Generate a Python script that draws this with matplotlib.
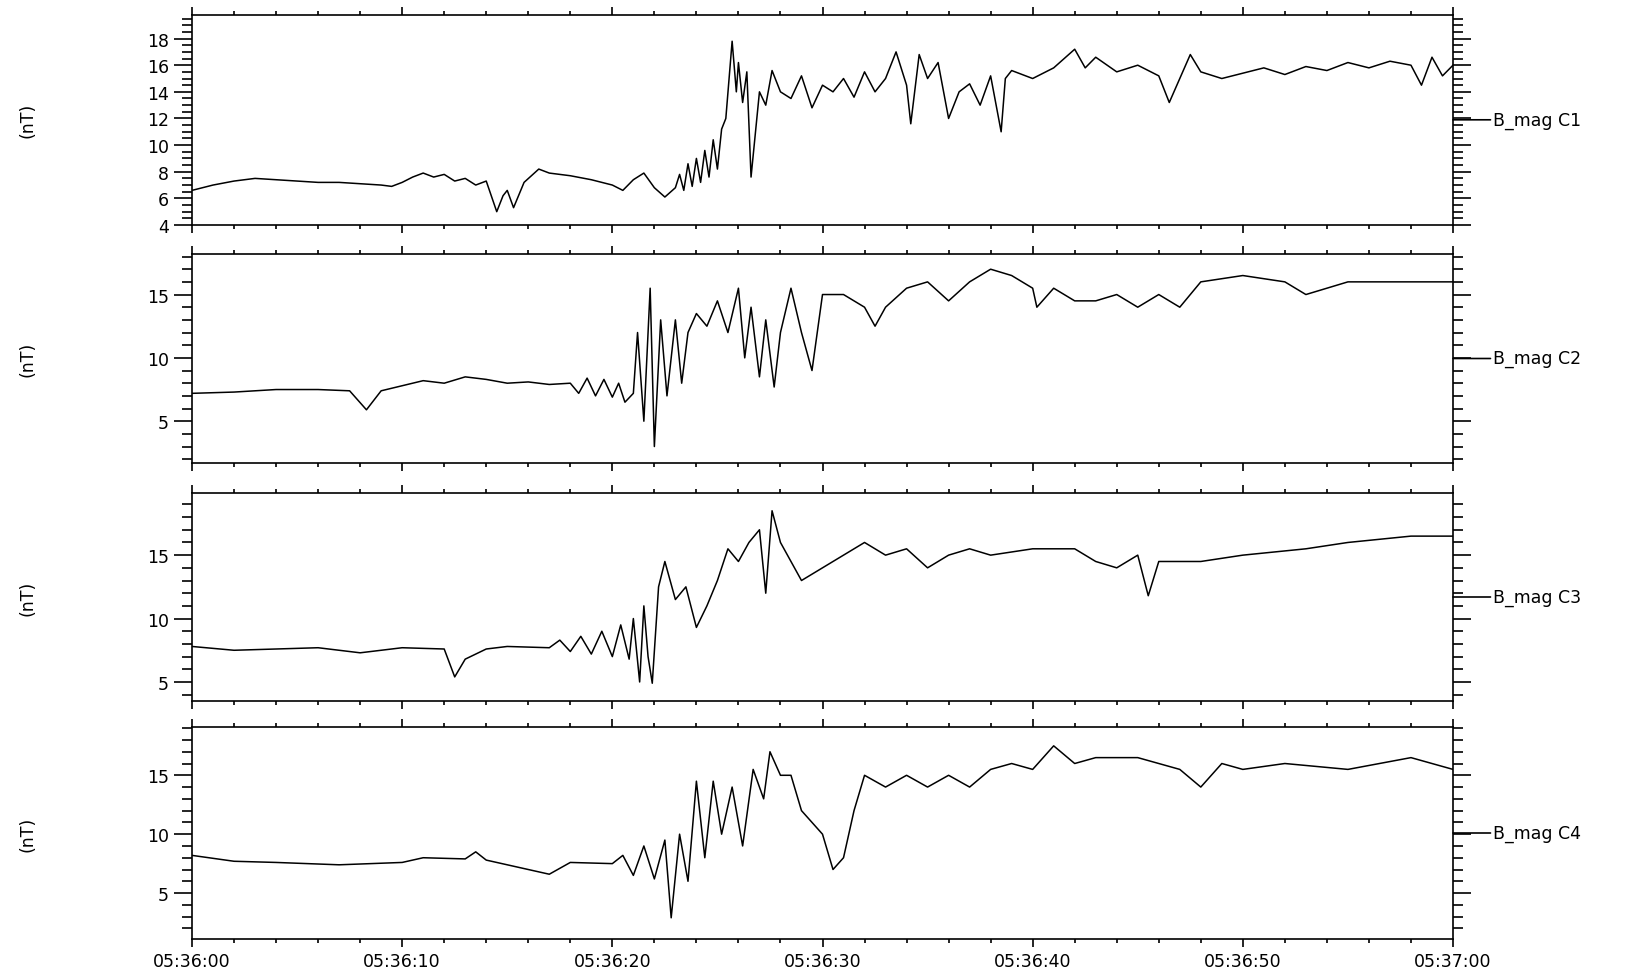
import numpy as np
import matplotlib.pyplot as plt
from matplotlib.ticker import MultipleLocator

# tiempo en segundos desde 05:36:00
t1 = [0, 1, 2, 3, 4, 5, 6, 7, 8, 9, 9.5, 10, 10.5, 11, 11.5, 12, 12.5, 13, 13.5, 14, 14.5, 14.8, 15, 15.3, 15.8, 16.5, 17, 18, 19, 20, 20.5, 21, 21.5, 22, 22.5, 23,
      23.2, 23.4, 23.6, 23.8, 24, 24.2, 24.4, 24.6, 24.8, 25, 25.2, 25.4, 25.7, 25.9, 26, 26.2, 26.4, 26.6, 27, 27.3, 27.6, 28, 28.5, 29, 29.5, 30, 30.5, 31, 31.5, 32,
      32.5, 33, 33.5, 34, 34.2, 34.6, 35, 35.5, 36, 36.5, 37, 37.5, 38, 38.5, 38.7, 39, 40, 41, 42, 42.5, 43, 44, 45, 46, 46.5, 47, 47.5, 48, 49, 50, 51, 52, 53, 54,
      55, 56, 57, 58, 58.5, 59, 59.5, 60]
b1 = [6.6, 7.0, 7.3, 7.5, 7.4, 7.3, 7.2, 7.2, 7.1, 7.0, 6.9, 7.2, 7.6, 7.9, 7.6, 7.8, 7.3, 7.5, 7.0, 7.3, 5.0, 6.2, 6.6, 5.3, 7.2, 8.2, 7.9, 7.7, 7.4, 7.0, 6.6, 7.4, 7.9, 6.8, 6.1, 6.8,
      7.8, 6.6, 8.6, 6.9, 9.0, 7.2, 9.6, 7.6, 10.4, 8.2, 11.2, 12.0, 17.8, 14.0, 16.2, 13.2, 15.5, 7.6, 14.0, 13.0, 15.6, 14.0, 13.5, 15.2, 12.8, 14.5, 14.0, 15.0, 13.6, 15.5,
      14.0, 15.0, 17.0, 14.5, 11.6, 16.8, 15.0, 16.2, 12.0, 14.0, 14.6, 13.0, 15.2, 11.0, 15.0, 15.6, 15.0, 15.8, 17.2, 15.8, 16.6, 15.5, 16.0, 15.2, 13.2, 15.0, 16.8, 15.5,
      15.0, 15.4, 15.8, 15.3, 15.9, 15.6, 16.2, 15.8, 16.3, 16.0, 14.5, 16.6, 15.2, 16.0]

t2 = [0, 2, 4, 6, 7.5, 8.3, 9, 10, 11, 12, 13, 14, 15, 16, 17, 18, 18.4, 18.8, 19.2, 19.6, 20, 20.3, 20.6, 21, 21.2, 21.5, 21.8, 22, 22.3, 22.6, 23, 23.3, 23.6, 24, 24.5,
      25, 25.5, 26, 26.3, 26.6, 27, 27.3, 27.7, 28, 28.5, 29, 29.5, 30, 31, 32, 32.5, 33, 34, 35, 36, 37, 38, 39, 40, 40.2, 41, 42, 43, 44, 45, 46, 47, 48, 50, 52, 53,
      55, 58, 60]
b2 = [7.2, 7.3, 7.5, 7.5, 7.4, 5.9, 7.4, 7.8, 8.2, 8.0, 8.5, 8.3, 8.0, 8.1, 7.9, 8.0, 7.2, 8.4, 7.0, 8.3, 6.9, 8.0, 6.5, 7.2, 12.0, 5.0, 15.5, 3.0, 13.0, 7.0, 13.0, 8.0, 12.0, 13.5, 12.5,
      14.5, 12.0, 15.5, 10.0, 14.0, 8.5, 13.0, 7.7, 12.0, 15.5, 12.0, 9.0, 15.0, 15.0, 14.0, 12.5, 14.0, 15.5, 16.0, 14.5, 16.0, 17.0, 16.5, 15.5, 14.0, 15.5, 14.5, 14.5, 15.0, 14.0, 15.0, 14.0, 16.0, 16.5, 16.0, 15.0,
      16.0, 16.0, 16.0]

t3 = [0, 2, 4, 6, 8, 10, 12, 12.5, 13, 14, 15, 17, 17.5, 18, 18.5, 19, 19.5, 20, 20.4, 20.8, 21, 21.3, 21.5, 21.7, 21.9, 22.2, 22.5, 23, 23.5, 24, 24.5, 25, 25.5, 26, 26.5,
      27, 27.3, 27.6, 28, 29, 30, 31, 32, 33, 34, 35, 36, 37, 38, 40, 42, 43, 44, 45, 45.5, 46, 48, 50, 53, 55, 58, 60]
b3 = [7.8, 7.5, 7.6, 7.7, 7.3, 7.7, 7.6, 5.4, 6.8, 7.6, 7.8, 7.7, 8.3, 7.4, 8.6, 7.2, 9.0, 7.0, 9.5, 6.8, 10.0, 5.0, 11.0, 7.0, 4.9, 12.5, 14.5, 11.5, 12.5, 9.3, 11.0, 13.0, 15.5, 14.5, 16.0,
      17.0, 12.0, 18.5, 16.0, 13.0, 14.0, 15.0, 16.0, 15.0, 15.5, 14.0, 15.0, 15.5, 15.0, 15.5, 15.5, 14.5, 14.0, 15.0, 11.8, 14.5, 14.5, 15.0, 15.5, 16.0, 16.5, 16.5]

t4 = [0, 2, 4, 7, 10, 11, 13, 13.5, 14, 16, 17, 18, 20, 20.5, 21, 21.5, 22, 22.5, 22.8, 23.2, 23.6, 24, 24.4, 24.8, 25.2, 25.7, 26.2, 26.7, 27.2, 27.5, 28, 28.5, 29, 30,
      30.5, 31, 31.5, 32, 33, 34, 35, 36, 37, 38, 39, 40, 41, 42, 43, 45, 47, 48, 49, 50, 52, 55, 58, 60]
b4 = [8.2, 7.7, 7.6, 7.4, 7.6, 8.0, 7.9, 8.5, 7.8, 7.0, 6.6, 7.6, 7.5, 8.2, 6.5, 9.0, 6.2, 9.5, 2.9, 10.0, 6.0, 14.5, 8.0, 14.5, 10.0, 14.0, 9.0, 15.5, 13.0, 17.0, 15.0, 15.0, 12.0, 10.0,
      7.0, 8.0, 12.0, 15.0, 14.0, 15.0, 14.0, 15.0, 14.0, 15.5, 16.0, 15.5, 17.5, 16.0, 16.5, 16.5, 15.5, 14.0, 16.0, 15.5, 16.0, 15.5, 16.5, 15.5]

series = [(t1, b1), (t2, b2), (t3, b3), (t4, b4)]
nombres = ["B_mag C1", "B_mag C2", "B_mag C3", "B_mag C4"]
limites = [(4, 19.8), (1.7, 18.2), (3.5, 19.9), (1.1, 19.1)]
cajas = [(15.6, 226), (255, 464), (494, 702), (728, 940)]  # px arriba/abajo
xticks = [0, 10, 20, 30, 40, 50, 60]
xlabels = ["05:36:00", "05:36:10", "05:36:20", "05:36:30", "05:36:40", "05:36:50", "05:37:00"]

plt.rcParams['font.size'] = 12.5
fig = plt.figure(figsize=(16.29, 9.78), dpi=100)

for k in range(4):
    arriba, abajo = cajas[k]
    ax = fig.add_axes([192/1629, 1-abajo/978, (1453-192)/1629, (abajo-arriba)/978])
    t, b = series[k]
    ax.plot(t, b, color='black', lw=1.1)
    ax.set_xlim(0, 60)
    ax.set_ylim(*limites[k])
    ax.xaxis.set_major_locator(MultipleLocator(10))
    ax.xaxis.set_minor_locator(MultipleLocator(2))
    if k == 0:
        ax.yaxis.set_major_locator(MultipleLocator(2))
        ax.yaxis.set_minor_locator(MultipleLocator(0.5))
    else:
        ax.yaxis.set_major_locator(MultipleLocator(5))
        ax.yaxis.set_minor_locator(MultipleLocator(1))
    ax.tick_params(which='both', direction='out', top=True, right=True, width=1.2)
    ax.tick_params(which='major', axis='y', length=13)
    ax.tick_params(which='minor', axis='y', length=7)
    ax.tick_params(which='major', axis='x', length=6)
    ax.tick_params(which='minor', axis='x', length=3)
    for s in ax.spines.values():
        s.set_linewidth(1.2)
    if k == 3:
        ax.set_xticks(xticks)
        ax.set_xticklabels(xlabels)
    else:
        ax.set_xticklabels([])
    ax.set_ylabel("(nT)")
    ax.yaxis.set_label_coords(-0.123, 0.5)
    ax.annotate(nombres[k], xy=(1, 0.5), xycoords='axes fraction', xytext=(29, 0),
                textcoords='offset points', va='center', ha='left',
                arrowprops=dict(arrowstyle='-', lw=1.2, color='black', shrinkA=0, shrinkB=0))

fig.savefig("out.png", dpi=100)
